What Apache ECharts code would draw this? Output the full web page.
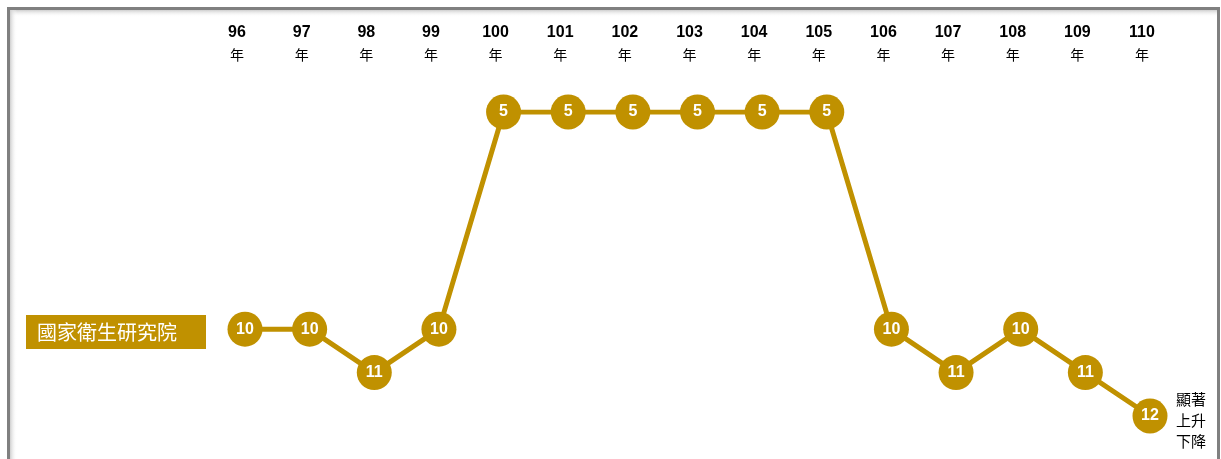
<!DOCTYPE html>
<html>
<head>
<meta charset="utf-8">
<script src="https://cdn.jsdelivr.net/npm/echarts@6/dist/echarts.min.js"></script>
<style>html,body{margin:0;padding:0;background:#fff}#c{width:1221px;height:459px}</style>
</head>
<body>
<div id="c"></div>
<script>
const years = ['96','97','98','99','100','101','102','103','104','105','106','107','108','109','110'];
const ranks = [10,10,11,10,5,5,5,5,5,5,10,11,10,11,12];
const seriesName = '國家衛生研究院';
const noteLines = ['顯著', '上升', '下降'];

const gold = '#C09100';
const chart = echarts.init(document.getElementById('c'));
const gradH = new echarts.graphic.LinearGradient(0, 0, 0, 1, [{offset: 0, color: '#cfcfcf'}, {offset: 1, color: 'rgba(255,255,255,0)'}]);
const gradV = new echarts.graphic.LinearGradient(0, 0, 1, 0, [{offset: 0, color: '#cfcfcf'}, {offset: 1, color: 'rgba(255,255,255,0)'}]);
chart.setOption({
  animation: false,
  backgroundColor: '#fff',
  grid: {left: 245, right: 71, top: 112, height: 304},
  xAxis: {
    type: 'category', data: years, position: 'top', boundaryGap: false,
    axisLine: {show: false}, axisTick: {show: false}, splitLine: {show: false},
    offset: 47,
    axisLabel: {
      interval: 0, margin: 0,
      padding: [0, 16, 0, 0],
      formatter: v => '{n|' + v + '}\n{y|年}',
      rich: {
        n: {fontFamily: 'Liberation Sans, Arial', fontWeight: 'bold', fontSize: 16, color: '#000', lineHeight: 22},
        y: {fontFamily: 'Noto Sans CJK TC', fontSize: 14, color: '#000', lineHeight: 21}
      }
    }
  },
  yAxis: {
    type: 'value', inverse: true, min: 5, max: 12, show: false
  },
  series: [{
    name: seriesName,
    type: 'line', data: ranks,
    symbol: 'circle', symbolSize: 35,
    lineStyle: {color: gold, width: 5},
    itemStyle: {color: gold},
    label: {show: true, position: 'inside', color: '#fff', fontFamily: 'Liberation Sans, Arial', fontWeight: 'bold', fontSize: 16},
    z: 3
  }],
  graphic: [
    {type: 'rect', shape: {x: 10, y: 10, width: 1207, height: 7}, style: {fill: gradH}},
    {type: 'rect', shape: {x: 10, y: 10, width: 7, height: 449}, style: {fill: gradV}},
    {type: 'rect', shape: {x: 7, y: 7, width: 1213, height: 3}, style: {fill: '#808080'}},
    {type: 'rect', shape: {x: 7, y: 7, width: 3, height: 452}, style: {fill: '#808080'}},
    {type: 'rect', shape: {x: 1217, y: 7, width: 3, height: 452}, style: {fill: '#808080'}},
    {type: 'rect', shape: {x: 26, y: 315, width: 180, height: 34}, style: {fill: gold}},
    {type: 'text', x: 37, y: 332, style: {text: seriesName, fill: '#fff', font: '20px "Noto Sans CJK TC"', verticalAlign: 'middle', textAlign: 'left'}},
    {type: 'text', x: 1176, y: 389, style: {text: noteLines.join('\n'), fill: '#000', font: '15px "Noto Sans CJK TC"', lineHeight: 21, textAlign: 'left'}}
  ]
});
</script>
</body>
</html>
